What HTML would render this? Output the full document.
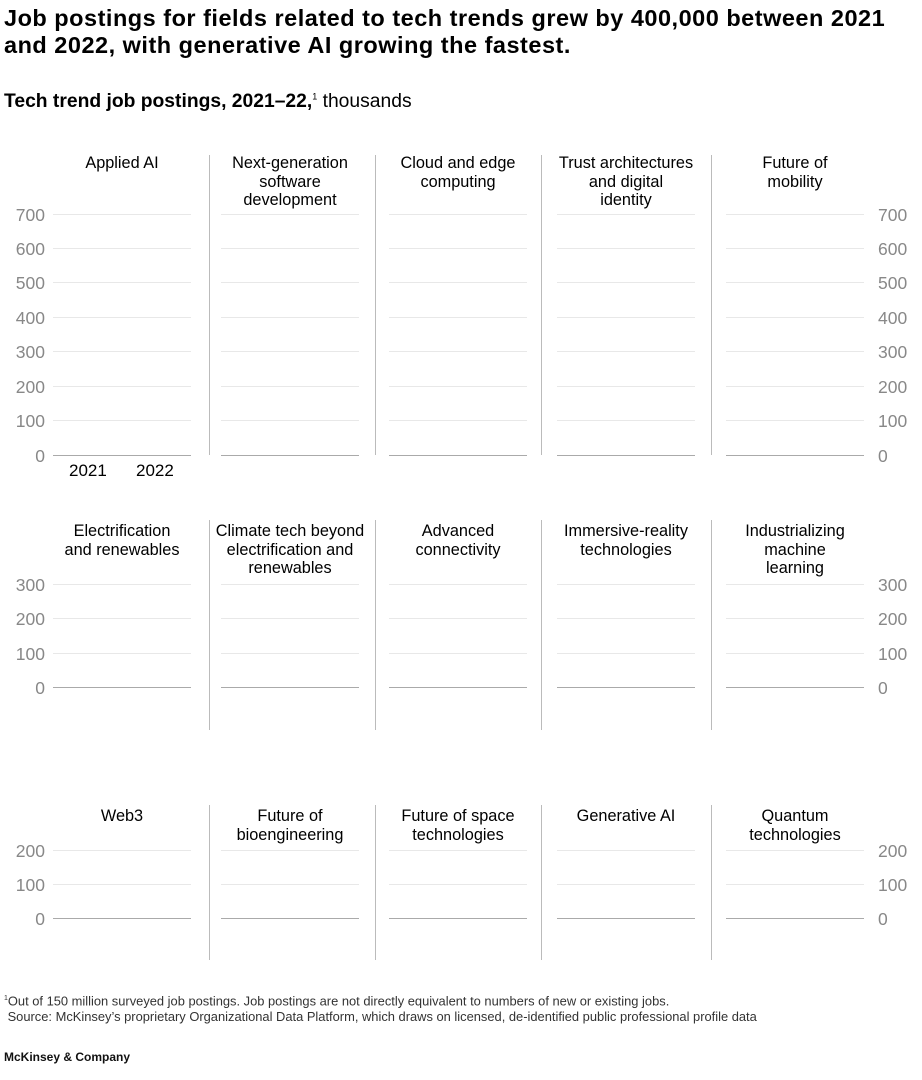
<!DOCTYPE html>
<html><head><meta charset="utf-8"><style>
body{margin:0;width:922px;height:1080px;background:#fff;font-family:"Liberation Sans",sans-serif;position:relative;overflow:hidden}
.a{position:absolute}
.t{font-size:16.3px;color:#000;text-align:center;line-height:18.5px;width:170px}
.g{height:1px;background:#e8e8e8;width:138px}
.b{height:1px;background:#aaa;width:138px}
.s{width:1px;background:#bbb}
.l{font-size:17.5px;color:#888;line-height:18px}
</style></head><body>
<div class="a" style="left:4px;top:5px;font-size:23.5px;font-weight:bold;line-height:27px;width:918px;letter-spacing:0.5px;white-space:nowrap">Job postings for fields related to tech trends grew by 400,000 between 2021<br>and 2022, with generative AI growing the fastest.</div>
<div class="a" style="left:4px;top:91px;font-size:19.3px;"><b>Tech trend job postings, 2021–22,</b><sup style="font-size:9px">1</sup> thousands</div>
<div id="c"></div>
<div class="a" style="left:69px;top:461px;font-size:17px">2021</div>
<div class="a" style="left:136px;top:461px;font-size:17px">2022</div>
<div class="a" style="left:4px;top:991px;font-size:12.9px;color:#333;line-height:16px"><sup style="font-size:7px">1</sup>Out of 150 million surveyed job postings. Job postings are not directly equivalent to numbers of new or existing jobs.<br>&nbsp;Source: McKinsey’s proprietary Organizational Data Platform, which draws on licensed, de-identified public professional profile data</div>
<div class="a" style="left:4px;top:1050px;font-size:12px;font-weight:bold;color:#111">McKinsey &amp; Company</div>
<script>
var cols=[53,221,389,557,726],seps=[209,375,541,711];
var rows=[
{titles:["Applied AI","Next-generation<br>software<br>development","Cloud and edge<br>computing","Trust architectures<br>and digital<br>identity","Future of<br>mobility"],ty:154,zero:454.5,top:213.5,max:700,st:155,se:455},
{titles:["Electrification<br>and renewables","Climate tech beyond<br>electrification and<br>renewables","Advanced<br>connectivity","Immersive-reality<br>technologies","Industrializing<br>machine<br>learning"],ty:522,zero:687,top:584,max:300,st:520,se:730},
{titles:["Web3","Future of<br>bioengineering","Future of space<br>technologies","Generative AI","Quantum<br>technologies"],ty:807,zero:918,top:850,max:200,st:805,se:960}];
var h="";
rows.forEach(function(r){
 var step=(r.zero-r.top)/(r.max/100);
 cols.forEach(function(x,i){
  h+='<div class="a t" style="left:'+(x+69-85)+'px;top:'+r.ty+'px">'+r.titles[i]+'</div>';
  for(var v=0;v<=r.max;v+=100){var y=r.zero-step*v/100;
   h+='<div class="a '+(v?'g':'b')+'" style="left:'+x+'px;top:'+Math.round(y)+'px"></div>';}
 });
 seps.forEach(function(x){h+='<div class="a s" style="left:'+x+'px;top:'+r.st+'px;height:'+(r.se-r.st)+'px"></div>';});
 for(var v=0;v<=r.max;v+=100){var y=r.zero-step*v/100;
  h+='<div class="a l" style="right:'+(922-45)+'px;top:'+Math.round(y-8)+'px">'+v+'</div>';
  h+='<div class="a l" style="left:878px;top:'+Math.round(y-8)+'px">'+v+'</div>';}
});
document.getElementById("c").innerHTML=h;
</script>
</body></html>
